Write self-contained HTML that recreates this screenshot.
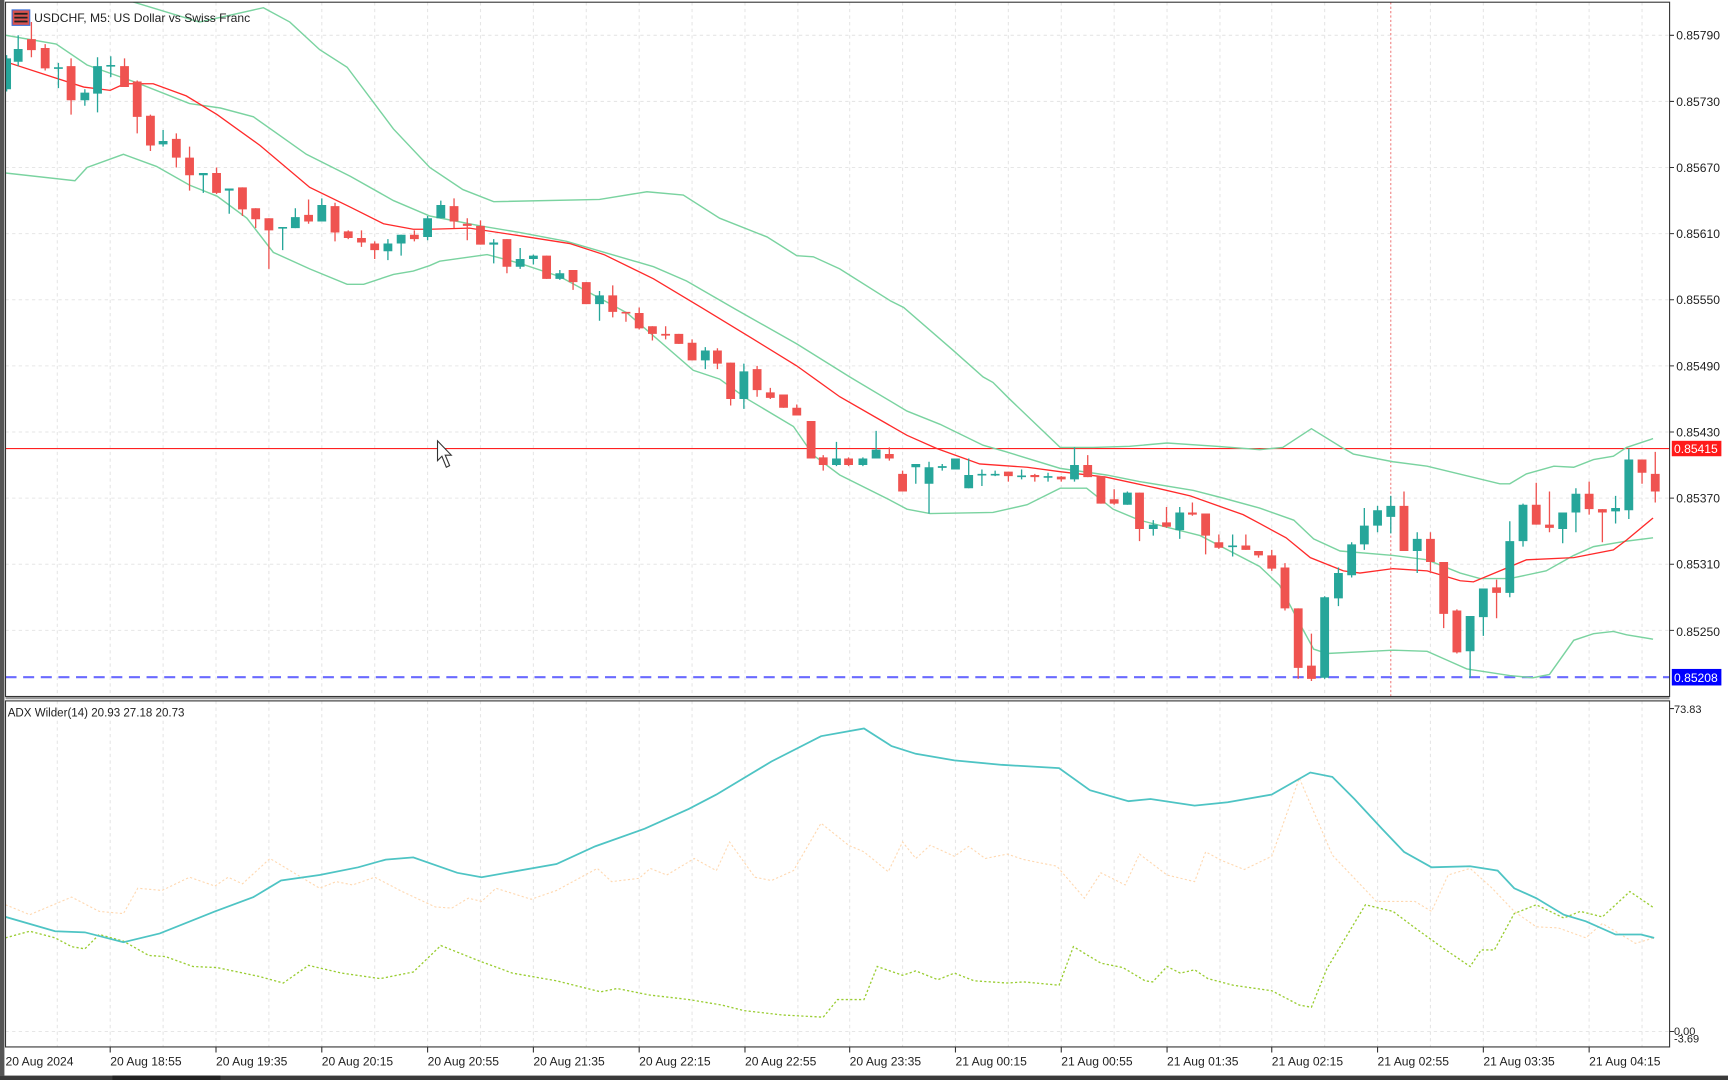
<!DOCTYPE html>
<html><head><meta charset="utf-8"><style>
html,body{margin:0;padding:0;background:#fff;width:1728px;height:1080px;overflow:hidden}
svg{display:block}
text{font-family:"Liberation Sans",sans-serif;font-size:11px;fill:#222}
</style></head><body>
<svg width="1728" height="1080" viewBox="0 0 1568 980" preserveAspectRatio="none" xmlns="http://www.w3.org/2000/svg">
<rect x="0" y="0" width="1568" height="980" fill="#fff"/>
<rect x="0" y="0" width="4" height="976" fill="#555"/>
<defs><clipPath id="cm"><rect x="5" y="2" width="1510" height="630"/></clipPath>
<clipPath id="ci"><rect x="5" y="636" width="1510" height="314"/></clipPath></defs>
<!-- grids -->
<g stroke="#e6e6e6" stroke-width="1" stroke-dasharray="3,3">
<path d="M5 32H1515M5 92H1515M5 152H1515M5 212H1515M5 272H1515M5 332H1515M5 392H1515M5 452H1515M5 512H1515M5 572H1515M5 936H1515"/>
<path d="M52 2V632M100 2V632M148 2V632M196 2V632M244 2V632M292 2V632M340 2V632M388 2V632M436 2V632M484 2V632M532 2V632M580 2V632M628 2V632M676 2V632M724 2V632M771 2V632M819 2V632M867 2V632M915 2V632M963 2V632M1011 2V632M1059 2V632M1107 2V632M1154 2V632M1202 2V632M1250 2V632M1298 2V632M1346 2V632M1394 2V632M1442 2V632M1490 2V632"/>
<path d="M52 636V950M100 636V950M148 636V950M196 636V950M244 636V950M292 636V950M340 636V950M388 636V950M436 636V950M484 636V950M532 636V950M580 636V950M628 636V950M676 636V950M724 636V950M771 636V950M819 636V950M867 636V950M915 636V950M963 636V950M1011 636V950M1059 636V950M1107 636V950M1154 636V950M1202 636V950M1250 636V950M1298 636V950M1346 636V950M1394 636V950M1442 636V950M1490 636V950"/>
</g>
<g clip-path="url(#cm)">
<line x1="1262" y1="2" x2="1262" y2="632" stroke="#f08080" stroke-width="1" stroke-dasharray="2,2"/>
<line x1="5" y1="407" x2="1515" y2="407" stroke="#ff2020" stroke-width="1"/>
<line x1="5" y1="614.5" x2="1515" y2="614.5" stroke="#6a6aff" stroke-width="2" stroke-dasharray="10,6"/>
<g fill="none" stroke="#7ad3a0" stroke-width="1.3">
<polyline points="5,-40 60,-20 115,0 181,20 239,7 263,20 290,45 315,61 357,117 390,152 420,172 448,183 544,181 587,174 620,177 653,198 696,215 723,232 738,233 762,244 808,273 820,279 865,318 892,342 901,347 916,362 962,406 992,406 1025,405 1059,402 1104,405 1143,408 1164,406 1190,389 1216,405 1228,412 1264,419 1295,423 1361,439 1370,439 1385,430 1410,423 1428,424 1446,417 1464,414 1476,406 1500,398"/>
<polyline points="5,32 51,40 79,59 124,75 172,94 200,98 230,106 278,140 318,160 357,182 390,196 436,205 472,211 514,219 593,242 623,255 668,281 723,312 771,342 823,373 853,385 892,404 913,410 962,425 1004,431 1034,437 1083,445 1110,452 1143,461 1174,472 1192,489 1216,500 1264,504 1295,508 1325,520 1343,525 1370,525 1403,518 1428,504 1446,496 1476,491 1500,488"/>
<polyline points="5,157 68,164 79,152 112,140 142,151 172,168 197,178 224,198 248,229 281,244 315,258 330,258 357,249 375,246 390,241 399,237 442,231 472,239 508,251 569,284 629,336 653,344 678,362 720,387 738,413 762,431 808,454 823,462 844,466 901,465 932,458 962,443 986,443 1010,462 1034,472 1065,480 1089,486 1143,514 1161,531 1180,567 1192,589 1204,593 1264,590 1295,591 1313,599 1331,607 1370,613 1391,615 1406,612 1428,581 1446,575 1464,573 1476,576 1500,580"/>
</g>
<polyline fill="none" stroke="#ff2a2a" stroke-width="1.2" points="5,56 48,70 76,79 100,82 113,76 139,76 169,87 197,104 236,132 281,170 318,188 348,203 375,208 390,208 426,207 472,214 517,221 548,231 593,253 638,280 684,308 723,332 762,360 823,395 850,407 889,421 932,424 962,428 1004,433 1050,443 1080,450 1128,467 1143,475 1167,488 1189,506 1219,518 1234,520 1264,516 1295,518 1325,527 1337,528 1361,518 1385,508 1428,506 1464,499 1476,490 1500,470"/>
<!-- teal candles -->
<path fill="none" stroke="#26a69a" stroke-width="1.2" d="M6 50V83M16.5 32V60M53 57V80M77 81V96M88.5 52V102M100.5 51V70M148 118V133M184.5 157V175M208 171V194M256.5 206V227M268 189V207M292 180V201M352 217V236M364 213V232M388 196V218M400 182V198M448 217V239M472 225V244M484 231V240M508 245V254M544 264V291M640 315V335M675 330V371M759 401V423M783 415V423M795 391V416M831 421V439M843 419V466M855 421V427M867 416V426M879 416V443M891 426V441M903 427V432M927 426V435M951 429V437M975 406V437M1023 446V458M1046.5 472V486M1070.5 460V489M1118.5 485V505M1202 541V616M1214.5 515V550M1226.5 492V524M1238 461V499M1250 459V483M1262 450V484M1286 483V520M1334 559V615M1346 534V577M1370 473V542M1382 457V496M1418 465V493M1430 443V483M1466 450V475M1478 407V471"/>
<path fill="#26a69a" d="M2 53h8v28h-8zM12.5 44.5h8v11.5h-8zM49 61h8v1.5h-8zM73 84h8v7h-8zM84.5 60h8v25h-8zM96.5 59h8v1.5h-8zM144 128h8v3h-8zM180.5 157h8v2h-8zM204 171h8v2h-8zM252.5 206h8v1.5h-8zM264 197h8v10h-8zM288 186h8v15h-8zM348 221h8v7h-8zM360 213h8v8h-8zM384 198h8v17h-8zM396 186h8v12h-8zM444 220h8v2h-8zM468 235h8v7h-8zM480 232h8v3h-8zM504 248h8v5h-8zM540 268h8v8h-8zM636 318h8v9h-8zM671 337h8v25h-8zM755 416h8v6h-8zM779 416h8v6h-8zM791 408h8v8h-8zM827 421h8v3h-8zM839 424h8v15h-8zM851 423h8v1.5h-8zM863 416h8v10h-8zM875 431h8v12h-8zM887 430h8v1.5h-8zM899 430h8v1.5h-8zM923 431.5h8v1.5h-8zM947 432h8v1.5h-8zM971 422h8v13h-8zM1019 447h8v11h-8zM1042.5 476h8v4h-8zM1066.5 465h8v16h-8zM1114.5 495h8v1.5h-8zM1198 542h8v73h-8zM1210.5 520h8v23h-8zM1222.5 494h8v28h-8zM1234 477h8v17h-8zM1246 463h8v14h-8zM1258 459h8v10h-8zM1282 489h8v11h-8zM1330 559h8v32h-8zM1342 534h8v26h-8zM1366 491h8v47h-8zM1378 458h8v33h-8zM1414 465h8v15h-8zM1426 448h8v17h-8zM1462 461h8v3h-8zM1474 417h8v46h-8z"/>
<!-- red candles -->
<path fill="none" stroke="#ef5350" stroke-width="1.2" d="M28.5 20V52M41 40V64M64.5 53V104M113 53V79M124.5 73V121M136.5 104V137M160 121V152M172 133V173M196.5 152V176M220 170V196M232 189V207M244 198V244M280 181V203M304 184V219M316 209V217M328 209V224M340 219V235M376 209V219M412 180V207M424 198V218M436 200V222M460 217V248M496 232V253M520 245V263M532 256V276M556 259V288M568 283V292M580 279V299M592 296V309M604 296V308M616 303V312M628 308V327M651 316V335M663 329V368M687 332V360M699 352V362M711 358V370M723 367V377M736 382V416M747 413V427M770 415V423M807 406V418M819 427V446M915 428V437M939 430V437M963 432V437M987 413V433M999 432V457M1011 444V458M1034 447V491M1058.5 460V479M1082 456V468M1094 466V503M1106 485V498M1130.5 485V499M1142 500V506M1154 499V518M1166 511V554M1178 552V616M1190 575V618M1274 446V500M1298 483V520M1310 510V570M1322 553V593M1358 526V561M1394 438V476M1406 446V483M1442 437V467M1454 462V492M1490 417V439M1502 410V456"/>
<path fill="#ef5350" d="M24.5 35.5h8v10h-8zM37 43.5h8v18.5h-8zM60.5 60h8v31h-8zM109 60h8v19h-8zM120.5 74h8v32h-8zM132.5 105h8v27h-8zM156 126h8v17h-8zM168 143h8v16h-8zM192.5 157h8v18h-8zM216 170h8v20h-8zM228 189h8v10h-8zM240 198h8v11h-8zM276 195h8v6h-8zM300 187h8v24h-8zM312 210h8v6h-8zM324 216h8v4h-8zM336 221h8v6h-8zM372 213h8v4h-8zM408 187h8v14h-8zM420 203h8v2h-8zM432 205h8v17h-8zM456 217h8v25h-8zM492 232h8v21h-8zM516 245h8v11h-8zM528 256h8v20h-8zM552 268h8v15h-8zM564 283h8v1.5h-8zM576 284h8v14h-8zM588 296h8v7h-8zM600 303h8v1.5h-8zM612 303h8v9h-8zM624 311h8v16h-8zM647 318h8v12h-8zM659 329h8v33h-8zM683 335h8v19h-8zM695 356h8v5h-8zM707 358h8v12h-8zM719 370h8v7h-8zM732 382h8v34h-8zM743 415h8v7h-8zM766 416h8v6h-8zM803 412h8v4h-8zM815 430h8v16h-8zM911 428h8v4h-8zM935 431h8v2h-8zM959 432.5h8v2.5h-8zM983 422h8v11h-8zM995 432h8v25h-8zM1007 453h8v4h-8zM1030 447h8v33h-8zM1054.5 474h8v4h-8zM1078 465h8v2h-8zM1090 466h8v20h-8zM1102 492h8v5h-8zM1126.5 495h8v4h-8zM1138 500h8v4h-8zM1150 504h8v12h-8zM1162 515h8v37h-8zM1174 552h8v54h-8zM1186 604h8v12h-8zM1270 459h8v41h-8zM1294 489h8v21h-8zM1306 510h8v47h-8zM1318 554h8v38h-8zM1354 533h8v5h-8zM1390 458h8v18h-8zM1402 476h8v3h-8zM1438 448h8v14h-8zM1450 462h8v3h-8zM1486 417h8v12h-8zM1498 430h8v16h-8z"/>
<!-- cursor -->
<path d="M397 400L397 418L401 414L405 424L408 422.5L404 413L409.5 413Z" fill="#fff" stroke="#333" stroke-width="1"/>
</g>
<!-- title -->
<rect x="11" y="9" width="16" height="14" fill="#d9534f" stroke="#3a6fd8" stroke-width="1"/>
<path d="M13 12.5h12M13 16h12M13 19.5h12" stroke="#222" stroke-width="1.6"/>
<text x="31" y="20">USDCHF, M5:  US Dollar vs Swiss Franc</text>
<!-- indicator -->
<g clip-path="url(#ci)" fill="none">
<polyline stroke="#ffd8b0" stroke-width="1" stroke-dasharray="2,2" points="5,821 27,830 65,814 90,827 112,829 125,806 147,808 172,796 195,804 207,796 220,802 245,779 290,806 305,800 320,803 340,796 365,809 395,823 410,824 425,815 437,818 450,806 482,816 505,808 542,788 555,800 580,797 590,788 605,794 630,779 650,790 662,764 685,796 700,799 720,790 745,747 770,767 784,773 806,791 819,764 831,779 844,767 866,777 879,768 894,779 914,775 929,780 959,786 984,815 999,792 1021,803 1034,775 1059,794 1084,800 1094,773 1109,781 1129,789 1154,777 1179,706 1209,776 1249,818 1284,818 1299,827 1314,794 1334,788 1354,806 1374,827 1394,841 1414,842 1439,851 1454,838 1484,856 1501,851"/>
<polyline stroke="#9acd32" stroke-width="1.2" stroke-dasharray="2,2" points="5,851 27,845 50,851 65,859 77,861 90,848 112,854 135,867 150,868 175,877 197,878 235,886 257,892 280,876 310,883 345,888 375,882 400,858 435,872 465,883 505,890 545,900 560,897 590,903 625,907 655,912 675,917 710,921 747,923 760,907 784,907 796,877 819,885 831,881 851,889 866,883 884,890 914,892 929,891 961,894 974,859 999,874 1019,878 1039,890 1046,891 1059,877 1071,883 1084,880 1096,888 1119,894 1154,899 1179,912 1190,914 1204,879 1239,821 1264,827 1284,842 1309,860 1334,877 1344,862 1356,862 1374,829 1394,821 1419,833 1434,827 1454,832 1479,809 1501,824"/>
<polyline stroke="#4ec4c4" stroke-width="1.6" points="5,832 50,845 77,846 112,855 145,847 195,827 230,814 255,799 290,794 325,787 350,780 375,778 415,792 437,796 505,784 540,768 585,752 625,734 650,721 700,691 745,668 784,661 809,677 831,684 866,690 909,694 961,697 989,717 1024,727 1044,725 1084,731 1114,728 1154,721 1189,701 1209,705 1229,725 1254,752 1274,773 1299,787 1334,786 1359,790 1374,806 1394,815 1419,830 1439,836 1466,848 1489,848 1501,851"/>
</g>
<text x="7" y="650" style="font-size:10.5px">ADX Wilder(14) 20.93 27.18 20.73</text>
<!-- frames -->
<g fill="none" stroke="#333" stroke-width="1">
<rect x="5" y="2" width="1510" height="630"/>
<rect x="5" y="636" width="1510" height="314"/>
</g>
<line x1="5" y1="633.5" x2="1515" y2="633.5" stroke="#999" stroke-width="2"/>
<!-- price axis -->
<g stroke="#333" stroke-width="1"><path d="M1515 32h4M1515 92h4M1515 152h4M1515 212h4M1515 272h4M1515 332h4M1515 392h4M1515 452h4M1515 512h4M1515 572h4M1515 643h4M1515 936h4"/></g>
<g>
<text x="1521" y="36">0.85790</text><text x="1521" y="96">0.85730</text><text x="1521" y="156">0.85670</text><text x="1521" y="216">0.85610</text><text x="1521" y="276">0.85550</text><text x="1521" y="336">0.85490</text><text x="1521" y="396">0.85430</text><text x="1521" y="456">0.85370</text><text x="1521" y="516">0.85310</text><text x="1521" y="577">0.85250</text>
</g>
<rect x="1517" y="400" width="45" height="14" fill="#ff1a1a"/>
<text x="1519" y="411" style="fill:#fff">0.85415</text>
<rect x="1517" y="607" width="45" height="15" fill="#0000ff"/>
<text x="1519" y="619" style="fill:#fff">0.85208</text>
<text x="1519" y="647" style="font-size:10px">73.83</text>
<text x="1519" y="939" style="font-size:10px">0.00</text>
<text x="1519" y="946" style="font-size:10px">-3.69</text>
<!-- time axis -->
<g stroke="#333" stroke-width="1"><path d="M100 950v5M196 950v5M292 950v5M388 950v5M484 950v5M580 950v5M676 950v5M771 950v5M867 950v5M963 950v5M1059 950v5M1154 950v5M1250 950v5M1346 950v5M1442 950v5"/></g>
<g>
<text x="5" y="967">20 Aug 2024</text><text x="100" y="967">20 Aug 18:55</text><text x="196" y="967">20 Aug 19:35</text><text x="292" y="967">20 Aug 20:15</text><text x="388" y="967">20 Aug 20:55</text><text x="484" y="967">20 Aug 21:35</text><text x="580" y="967">20 Aug 22:15</text><text x="676" y="967">20 Aug 22:55</text><text x="771" y="967">20 Aug 23:35</text><text x="867" y="967">21 Aug 00:15</text><text x="963" y="967">21 Aug 00:55</text><text x="1059" y="967">21 Aug 01:35</text><text x="1154" y="967">21 Aug 02:15</text><text x="1250" y="967">21 Aug 02:55</text><text x="1346" y="967">21 Aug 03:35</text><text x="1442" y="967">21 Aug 04:15</text>
</g>
<rect x="0" y="976" width="1568" height="4" fill="#3a3a3a"/>
<rect x="102" y="976" width="98" height="4" fill="#222"/>
</svg>
</body></html>
